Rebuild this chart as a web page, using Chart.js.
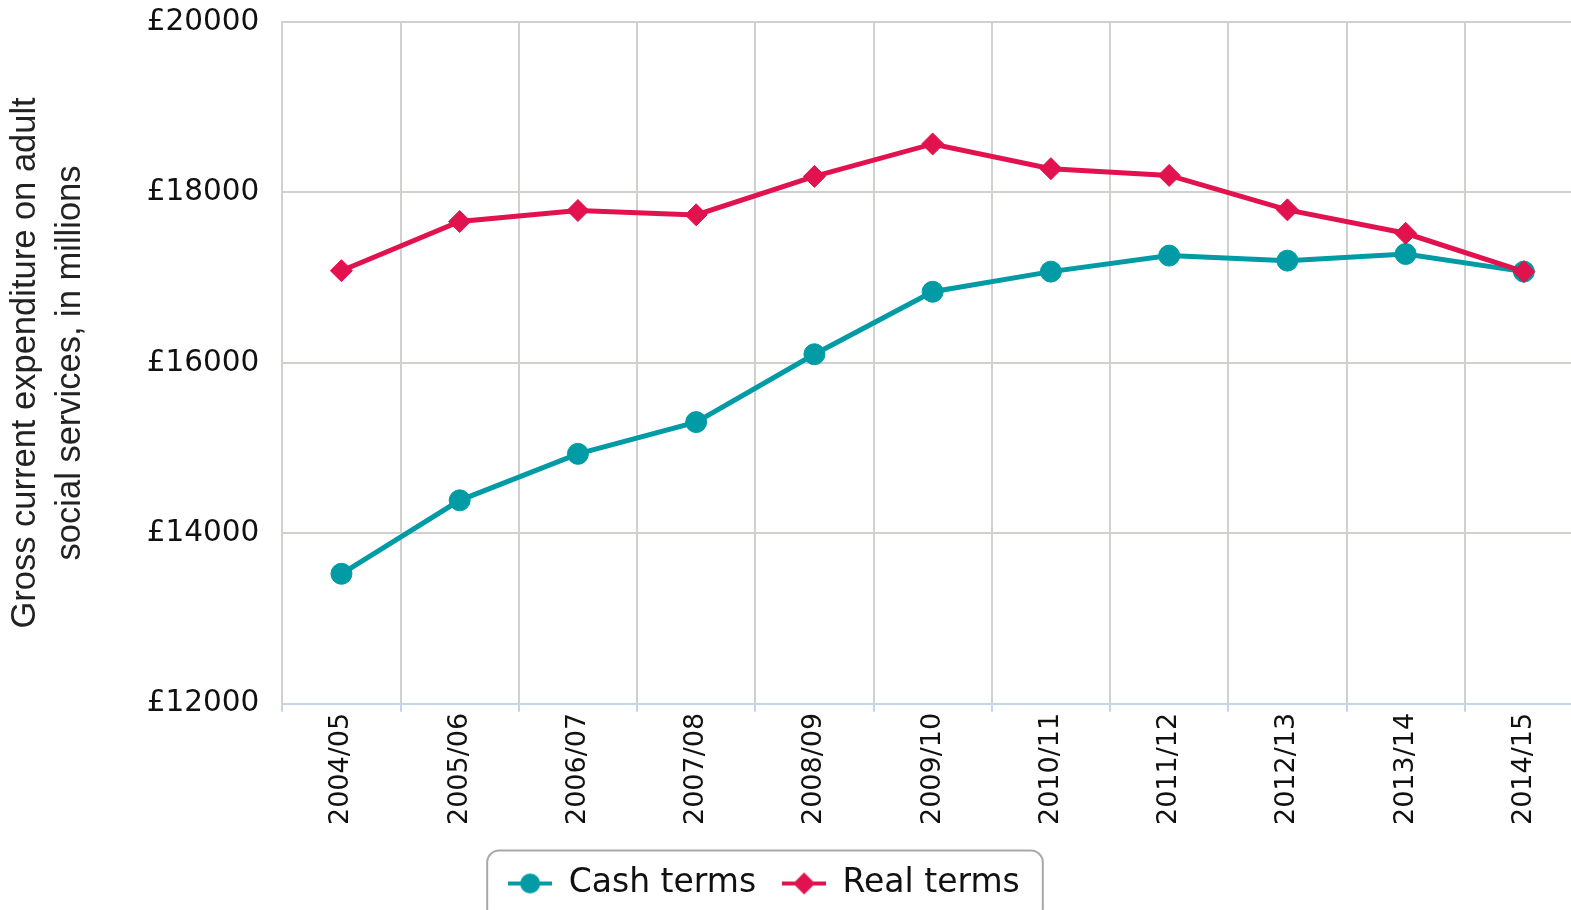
<!DOCTYPE html>
<html>
<head>
<meta charset="utf-8">
<title>Gross current expenditure on adult social services</title>
<script src="https://cdn.jsdelivr.net/npm/chart.js@4.4.1/dist/chart.umd.min.js"></script>
<style>
  html, body { margin: 0; padding: 0; background: #fff; overflow: hidden; }
  #wrap { width: 1595px; height: 910px; }
</style>
</head>
<body>
<div id="wrap"><canvas id="spendChart" width="1595" height="910"></canvas></div>
<script>
// financial years along the x axis
const years = ['2004/05', '2005/06', '2006/07', '2007/08', '2008/09', '2009/10',
               '2010/11', '2011/12', '2012/13', '2013/14', '2014/15'];
// £ millions
const cashTerms = [13526, 14388, 14933, 15306, 16102, 16835, 17071, 17259, 17200, 17278, 17071];
const realTerms = [17082, 17659, 17788, 17737, 18188, 18569, 18279, 18200, 17796, 17521, 17071];
const yTicks = [12000, 14000, 16000, 18000, 20000];

const TEAL = '#009ba4';
const CRIMSON = '#e1124e';
const GRID = '#d0d0cc';
const AXIS_BLUE = '#c5d5e8';

// small line+marker swatch for the legend (Chart.js only draws the point otherwise)
function legendMarker(color, style) {
  const c = document.createElement('canvas');
  c.width = 44;
  c.height = 24;
  const g = c.getContext('2d');
  g.strokeStyle = color;
  g.lineWidth = 4;
  g.beginPath();
  g.moveTo(0, 12);
  g.lineTo(44, 12);
  g.stroke();
  g.fillStyle = color;
  g.beginPath();
  if (style === 'circle') {
    g.arc(22, 12, 10, 0, Math.PI * 2);
  } else {
    g.moveTo(22, 1);
    g.lineTo(33, 12);
    g.lineTo(22, 23);
    g.lineTo(11, 12);
    g.closePath();
  }
  g.fill();
  return c;
}

// rounded frame round the legend, like the original
const legendFrame = {
  id: 'legendFrame',
  afterLayout(chart) {
    // the original legend sits left of the page centre
    chart.legend.right -= 67;
  },
  afterDraw(chart) {
    const lg = chart.legend;
    const pad = lg.options.labels.padding;
    const size = lg.options.labels.font.size;
    const x0 = (lg.left + pad + lg.right - lg.lineWidths[0]) / 2;
    const left = x0 - 21;
    const right = x0 + lg.lineWidths[0] - pad + 23;
    const cy = lg.top + pad + size / 2;
    const ctx = chart.ctx;
    ctx.save();
    ctx.strokeStyle = '#a8a8a8';
    ctx.lineWidth = 2;
    ctx.beginPath();
    ctx.roundRect(left, cy - 33, right - left, 70, 12);
    ctx.stroke();
    ctx.restore();
  }
};

const ctx = document.getElementById('spendChart').getContext('2d');
new Chart(ctx, {
  type: 'line',
  data: {
    labels: years,
    datasets: [{
      label: 'Cash terms',
      data: cashTerms,
      borderColor: TEAL,
      backgroundColor: TEAL,
      borderWidth: 5,
      pointStyle: 'circle',
      pointRadius: 10.5,
      pointBorderWidth: 1,
      tension: 0,
      order: 1
    }, {
      label: 'Real terms',
      data: realTerms,
      borderColor: CRIMSON,
      backgroundColor: CRIMSON,
      borderWidth: 5,
      pointStyle: 'rectRot',
      pointRadius: 11,
      pointBorderWidth: 1,
      tension: 0,
      order: 0
    }]
  },
  options: {
    responsive: false,
    animation: false,
    events: [],
    layout: {
      padding: { top: 22, left: 0, right: 0, bottom: 0 }
    },
    plugins: {
      tooltip: { enabled: false },
      legend: {
        position: 'bottom',
        labels: {
          usePointStyle: true,
          pointStyleWidth: 44,
          padding: 26,
          color: '#111',
          font: { family: 'DejaVu Sans', size: 33 },
          generateLabels(chart) {
            return chart.data.datasets.map((ds, i) => ({
              text: ds.label,
              fillStyle: ds.borderColor,
              strokeStyle: ds.borderColor,
              lineWidth: 0,
              fontColor: '#111',
              pointStyle: legendMarker(ds.borderColor, ds.pointStyle),
              hidden: false,
              datasetIndex: i
            }));
          }
        }
      }
    },
    scales: {
      x: {
        offset: true,
        grid: {
          offset: true,
          color: GRID,
          lineWidth: 2,
          tickColor: AXIS_BLUE,
          tickLength: 8
        },
        border: { color: AXIS_BLUE, width: 2 },
        ticks: {
          minRotation: 90,
          maxRotation: 90,
          padding: 1,
          color: '#111',
          font: { family: 'DejaVu Sans', size: 27 }
        },
        afterFit(scale) {
          scale.height += 15;
        }
      },
      y: {
        min: 12000,
        max: 20000,
        afterBuildTicks(axis) {
          axis.ticks = yTicks.map(v => ({ value: v }));
        },
        afterFit(scale) {
          // tick padding would otherwise push the plot top down
          scale.paddingTop = 0;
        },
        grid: {
          drawTicks: false,
          lineWidth: 2,
          color: c => (c.index === 0 ? 'rgba(0,0,0,0)' : GRID)
        },
        border: { color: GRID, width: 2 },
        ticks: {
          padding: 23,
          color: '#111',
          font: { family: 'DejaVu Sans', size: 29.5 },
          callback: v => '£' + v
        },
        title: {
          display: true,
          text: ['Gross current expenditure on adult', 'social services, in millions'],
          color: '#222',
          padding: { top: 3, bottom: 31 },
          font: { family: 'Liberation Sans', size: 34.5, lineHeight: 1.3 }
        }
      }
    }
  },
  plugins: [legendFrame]
});
</script>
</body>
</html>
